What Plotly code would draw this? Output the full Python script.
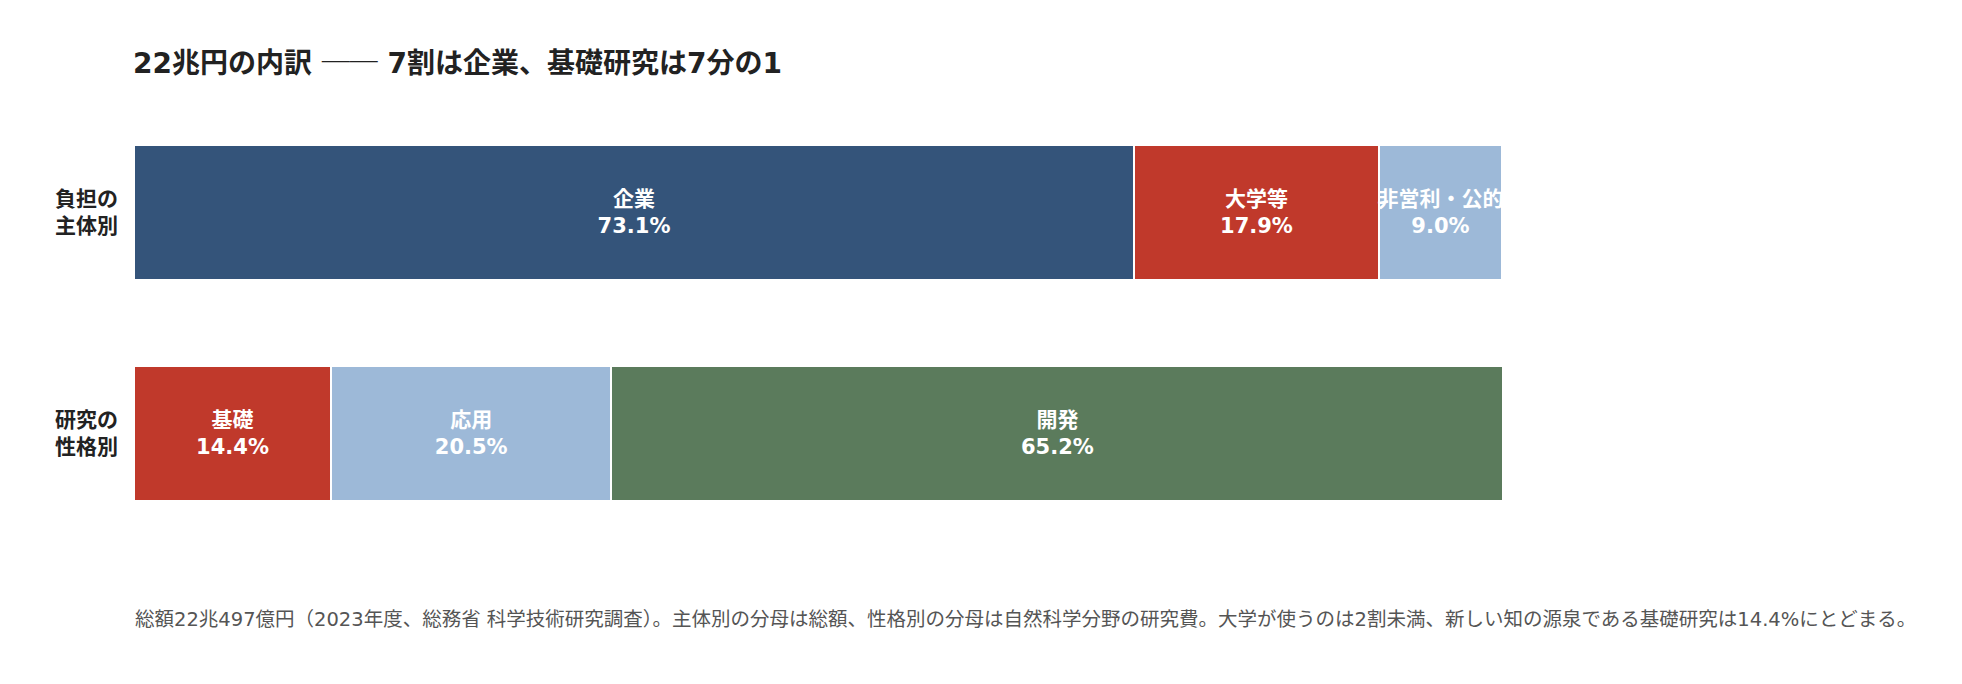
import plotly.graph_objects as go

FONT = "DejaVu Sans, Noto Sans CJK JP, sans-serif"

categorias = ["負担の<br>主体別", "研究の<br>性格別"]

# 負担の主体別
sujeto_nombres = ["企業", "大学等", "非営利・公的"]
sujeto_valores = [73.1, 17.9, 9.0]
sujeto_colores = ["#34547a", "#c0392b", "#9db9d8"]

# 研究の性格別
tipo_nombres = ["基礎", "応用", "開発"]
tipo_valores = [14.4, 20.5, 65.2]
tipo_colores = ["#c0392b", "#9db9d8", "#5b7b5c"]

titulo_a = "22兆円の内訳"
titulo_b = "7割は企業、基礎研究は7分の1"
nota = ("総額22兆497億円（2023年度、総務省 科学技術研究調査）。主体別の分母は総額、"
        "性格別の分母は自然科学分野の研究費。大学が使うのは2割未満、"
        "新しい知の源泉である基礎研究は14.4%にとどまる。")

W, H = 1962, 684
# la pagina deja 8px de margen en el body
L, R, T, B = 126, 468, 94, 148

fig = go.Figure()


def barra(cat, nombre, valor, color):
    fig.add_trace(go.Bar(
        y=[cat], x=[valor], orientation="h", name=nombre,
        marker=dict(color=color, line=dict(color="white", width=2)),
        text=["<b>%s</b><br><b>%.1f%%</b>" % (nombre, valor)],
        textposition="inside", insidetextanchor="middle",
        constraintext="none", textangle=0, cliponaxis=True,
        textfont=dict(family=FONT, size=21, color="white"),
        hoverinfo="skip", showlegend=False,
    ))


for n, v, c in zip(sujeto_nombres, sujeto_valores, sujeto_colores):
    barra(categorias[0], n, v, c)
for n, v, c in zip(tipo_nombres, tipo_valores, tipo_colores):
    barra(categorias[1], n, v, c)

guion = "<span style=\"font-family:'Noto Sans CJK JP';font-weight:normal\">──</span>"

fig.update_layout(
    width=W, height=H,
    barmode="stack", bargap=0.39,
    paper_bgcolor="white", plot_bgcolor="white",
    margin=dict(l=L, r=R, t=T, b=B),
    font=dict(family=FONT, color="#222"),
    title=dict(text="<b>%s %s %s</b>" % (titulo_a, guion, titulo_b),
               x=(L - 1) / W, xanchor="left", xref="container",
               y=1 - 55 / H, yanchor="middle", yref="container",
               font=dict(family=FONT, size=28, color="#222")),
    xaxis=dict(range=[0, 100], visible=False, fixedrange=True),
    yaxis=dict(autorange="reversed", showgrid=False, zeroline=False,
               showline=False, ticks="", ticklabelstandoff=15,
               tickfont=dict(family=FONT, size=21, color="#222"),
               tickvals=categorias,
               ticktext=["<b>%s</b>" % c for c in categorias]),
)

alto = H - T - B
ancho = W - L - R
fig.add_annotation(
    text=nota, xref="paper", yref="paper", x=-1 / ancho, y=-(611 - (H - B)) / alto,
    xanchor="left", yanchor="middle", showarrow=False,
    font=dict(family=FONT, size=19.5, color="#555"),
)

fig.write_html("out.html")
